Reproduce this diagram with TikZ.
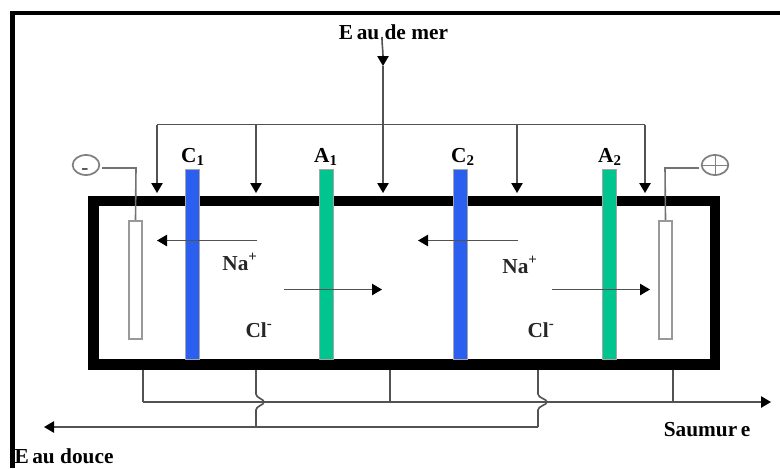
\documentclass[tikz,border=0pt]{standalone}
\usepackage{fontspec}
\setmainfont{Liberation Serif}
\usetikzlibrary{arrows.meta,shapes.geometric}

\tikzset{
    wire/.style={draw=black!68,line width=1.2pt},
    flow/.style={wire,-{Triangle[length=7.5pt,width=8.5pt,color=black]}},
    membraneC/.style={fill={rgb,255:red,43;green,95;blue,240},draw=black!35,line width=0.3pt,minimum width=10.5pt,minimum height=142.5pt,inner sep=0pt},
    membraneA/.style={fill={rgb,255:red,0;green,197;blue,142},draw=black!35,line width=0.3pt,minimum width=10.5pt,minimum height=142.5pt,inner sep=0pt},
    electrode/.style={draw=black!40,fill=white,line width=1.3pt,minimum width=10pt,minimum height=89pt,inner sep=0pt},
    terminal/.style={ellipse,draw=black!50,line width=1.3pt,minimum width=20pt,minimum height=15pt,inner sep=0pt},
    title/.style={font=\fontsize{16}{18}\selectfont\bfseries,inner sep=0pt},
    ion/.style={font=\fontsize{16}{18}\selectfont\bfseries,text=black!85,inner sep=0pt}
}

\begin{document}
\begin{tikzpicture}[x=0.75pt,y=-0.75pt]
    \useasboundingbox (0,0) rectangle (780,468);

    \draw[line width=3.4pt] (12.5,468) -- (12.5,13) -- (780,13);
    \draw[line width=8.2pt] (93.5,201) rectangle (715,364.5);

    \node[title] at (393.5,32) (mer) {E\,au de mer};
    \node[title] at (64,456) (douce) {E\,au douce};
    \node[title] at (707,430) (saumure) {Saumur\,e};

    \coordinate (m0) at (382,37);
    \coordinate (m1) at (383,66);
    \coordinate (h1) at (157,124.5);
    \coordinate (h2) at (256,124.5);
    \coordinate (h3) at (383,124.5);
    \coordinate (h4) at (517,124.5);
    \coordinate (h5) at (645,124.5);
    \coordinate (p1) at (157,193);
    \coordinate (p2) at (256,193);
    \coordinate (p3) at (383,193);
    \coordinate (p4) at (517,193);
    \coordinate (p5) at (645,193);

    \draw[flow] (m0) .. controls (382,46) and (383,50) .. (m1);
    \draw[wire] (m1) -- (h3);
    \draw[wire] (h1) -- (h5);
    \draw[flow] (h1) -- (p1);
    \draw[flow] (h2) -- (p2);
    \draw[flow] (h3) -- (p3);
    \draw[flow] (h4) -- (p4);
    \draw[flow] (h5) -- (p5);

    \node[electrode] at (135.5,280) (elec1) {};
    \node[electrode] at (665.5,280) (elec2) {};
    \node[terminal] at (86,165) (moins) {};
    \node[terminal] at (715,165) (plus) {};
    \node[title,text=black!70] at (85,172) (signe) {-};
    \draw[wire,draw=black!50,line width=0.7pt] (plus.north) -- (plus.south);
    \draw[wire,draw=black!50,line width=0.7pt] (plus.west) -- (plus.east);
    \draw[wire,draw=black!55] (moins.east) ++(2,3) -- (136,168) -- (elec1.north);
    \draw[wire,draw=black!55] (plus.west) ++(-2,3) -- (665,168) -- (elec2.north);

    \node[membraneC,anchor=north] at (192.5,169) (c1) {};
    \node[membraneA,anchor=north] at (326.5,169) (a1) {};
    \node[membraneC,anchor=north] at (460.5,169) (c2) {};
    \node[membraneA,anchor=north] at (609,169) (a2) {};

    \node[title] at (193,157) (lc1) {C\textsubscript{1}};
    \node[title] at (326,157) (la1) {A\textsubscript{1}};
    \node[title] at (463,157) (lc2) {C\textsubscript{2}};
    \node[title] at (610,157) (la2) {A\textsubscript{2}};

    \node[ion] at (240,262) (na1) {Na\textsuperscript{+}};
    \node[ion] at (520,265) (na2) {Na\textsuperscript{+}};
    \node[ion] at (259,330) (cl1) {Cl\textsuperscript{-}};
    \node[ion] at (541,330) (cl2) {Cl\textsuperscript{-}};

    \coordinate (na1a) at (257,240.5);
    \coordinate (na1b) at (157,240.5);
    \coordinate (na2a) at (518,240.5);
    \coordinate (na2b) at (418,240.5);
    \coordinate (cl1a) at (284,289.5);
    \coordinate (cl1b) at (382,289.5);
    \coordinate (cl2a) at (552,289.5);
    \coordinate (cl2b) at (650,289.5);
    \draw[flow] (na1a) -- (na1b);
    \draw[flow] (na2a) -- (na2b);
    \draw[flow] (cl1a) -- (cl1b);
    \draw[flow] (cl2a) -- (cl2b);

    \coordinate (b1) at (143,370);
    \coordinate (b2) at (390,370);
    \coordinate (b3) at (673,370);
    \coordinate (b4) at (256,370);
    \coordinate (b5) at (538,370);
    \coordinate (s1) at (143,402);
    \coordinate (s2) at (390,402);
    \coordinate (s3) at (673,402);
    \coordinate (s4) at (771,402);
    \coordinate (d1) at (538,427);
    \coordinate (d2) at (256,427);
    \coordinate (d3) at (44,427);

    \draw[wire] (b1) -- (s1);
    \draw[wire] (b2) -- (s2);
    \draw[wire] (b3) -- (s3);
    \draw[flow] (s1) -- (s4);
    \draw[flow] (d1) -- (d3);
    \draw[wire] (b4) -- (256,394) .. controls (256,398) and (264,399) .. (264,402) .. controls (264,405) and (256,406) .. (256,410) -- (d2);
    \draw[wire] (b5) -- (538,394) .. controls (538,398) and (547,399) .. (547,402) .. controls (547,405) and (538,406) .. (538,410) -- (d1);
\end{tikzpicture}
\end{document}
